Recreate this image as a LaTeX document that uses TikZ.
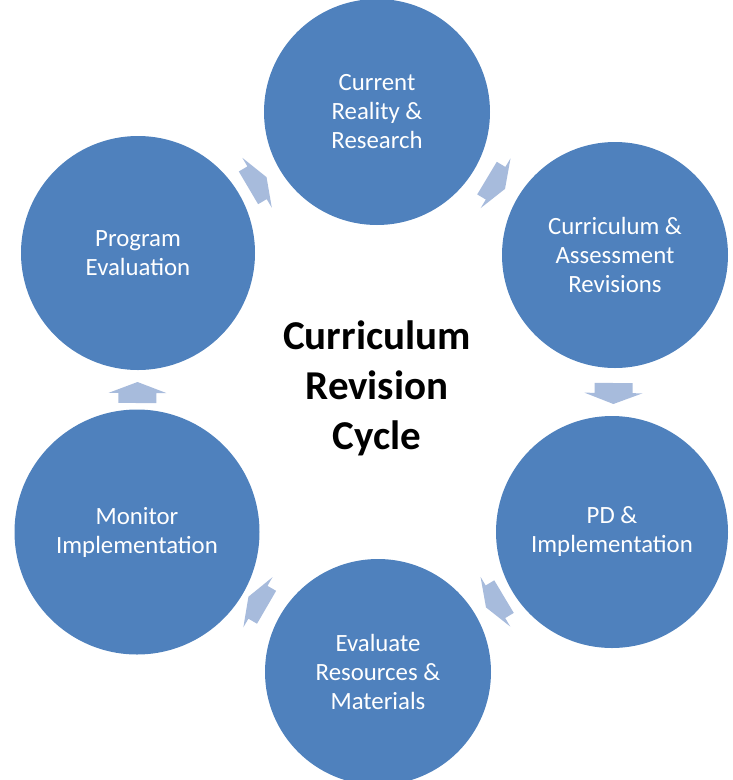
\documentclass[tikz,border=0pt]{standalone}
\usepackage{fontspec}
\setmainfont{Carlito}
\usetikzlibrary{calc}
\definecolor{circblue}{RGB}{79,129,189}
\definecolor{arrowblue}{RGB}{167,187,220}
\tikzset{
  cyclenode/.style={circle, fill=circblue, text=white, minimum size=#1, inner sep=0pt,
    align=center, font=\fontsize{24.8}{29}\selectfont},
  titletext/.style={align=center, text=black, font=\fontsize{41}{50}\selectfont\bfseries},
  blockarrow/.style={fill=arrowblue, draw=none}
}
\newcommand{\cyclearrow}[2]{%
  \coordinate (m-#1) at ($(#1)!0.5!(#2)$);
  \coordinate (tip-#1) at ($(m-#1)!10.5pt!(#2)$);
  \coordinate (hb-#1) at ($(m-#1)!0.5pt!(#1)$);
  \coordinate (sb-#1) at ($(m-#1)!10.5pt!(#1)$);
  \fill[blockarrow] (tip-#1)
    -- ($(hb-#1)!29pt!90:(tip-#1)$) -- ($(hb-#1)!19pt!90:(tip-#1)$)
    -- ($(sb-#1)!19pt!90:(tip-#1)$) -- ($(sb-#1)!19pt!-90:(tip-#1)$)
    -- ($(hb-#1)!19pt!-90:(tip-#1)$) -- ($(hb-#1)!29pt!-90:(tip-#1)$) -- cycle;
}
\begin{document}
\begin{tikzpicture}[x=1pt, y=-1pt]
  \useasboundingbox (0,0) rectangle (733,780);
  \node[cyclenode=226pt] (top) at (377,112) {Current\\Reality \&\\Research};
  \node[cyclenode=226pt] (ur) at (615,255) {Curriculum \&\\Assessment\\Revisions};
  \node[cyclenode=232pt] (lr) at (612,532) {PD \&\\Implementation};
  \node[cyclenode=226pt] (bot) at (378,672) {Evaluate\\Resources \&\\Materials};
  \node[cyclenode=245pt] (ll) at (137,532) {Monitor\\Implementation};
  \node[cyclenode=234pt] (ul) at (138,253) {Program\\Evaluation};
  \node[titletext] (title) at (377,388) {Curriculum\\Revision\\Cycle};
  \cyclearrow{top}{ur}
  \cyclearrow{ur}{lr}
  \cyclearrow{lr}{bot}
  \cyclearrow{bot}{ll}
  \cyclearrow{ll}{ul}
  \cyclearrow{ul}{top}
\end{tikzpicture}
\end{document}
